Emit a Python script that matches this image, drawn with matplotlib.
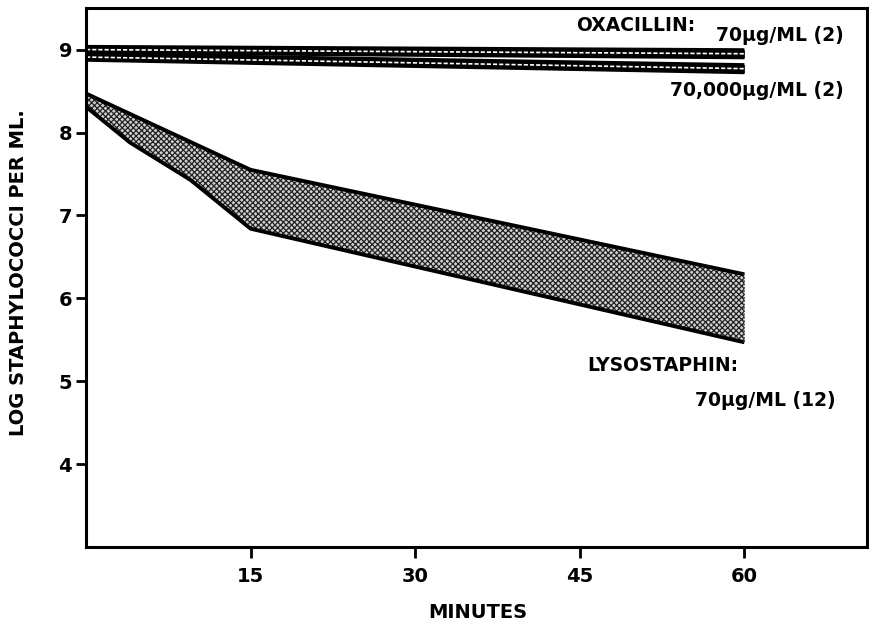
import matplotlib
matplotlib.use("Agg")
import matplotlib.pyplot as plt
import numpy as np

# lysostaphin band (min, log count)
lyso_upper_t = [0, 15, 60]
lyso_upper_y = [8.47, 7.55, 6.29]
lyso_lower_t = [0, 4, 9.5, 15, 60]
lyso_lower_y = [8.31, 7.88, 7.43, 6.84, 5.47]

# oxacillin bands: 70 ug/ml and 70,000 ug/ml
oxa_t = [0, 60]
oxa70_top = [9.04, 9.00]
oxa70_bot = [8.96, 8.90]
oxa70000_top = [8.95, 8.82]
oxa70000_bot = [8.87, 8.72]

plt.rcParams["font.family"] = "DejaVu Sans"
plt.rcParams["hatch.linewidth"] = 0.9

fig = plt.figure(figsize=(8.69, 6.26), dpi=100)
ax = fig.add_axes([0.099, 0.126, 0.899, 0.861])

# lysostaphin: stippled band
t_all = np.array(sorted(set(lyso_upper_t + lyso_lower_t)))
up = np.interp(t_all, lyso_upper_t, lyso_upper_y)
lo = np.interp(t_all, lyso_lower_t, lyso_lower_y)
ax.fill_between(t_all, lo, up, facecolor="#d0d0d0", edgecolor="#222222",
                hatch="xxxxxx", linewidth=0)
ax.plot(lyso_upper_t, lyso_upper_y, color="black", lw=2.8, solid_capstyle="butt")
ax.plot(lyso_lower_t, lyso_lower_y, color="black", lw=2.8, solid_capstyle="butt")
ax.plot([60, 60], [lyso_lower_y[-1], lyso_upper_y[-1]], color="#444444", lw=1.2, ls=(0, (1, 1)))

# oxacillin: black bars with white squiggle
for top, bot in [(oxa70_top, oxa70_bot), (oxa70000_top, oxa70000_bot)]:
    ax.fill_between(oxa_t, bot, top, color="black", lw=0)
    ax.plot(oxa_t, top, color="black", lw=2, solid_capstyle="butt")
    ax.plot(oxa_t, bot, color="black", lw=2, solid_capstyle="butt")
    mid = [(a + b) / 2 for a, b in zip(top, bot)]
    ax.plot(oxa_t, mid, color="white", lw=1.2, ls=(0, (2.5, 1.2)))

ax.set_xlim(0, 71.2)
ax.set_ylim(3.0, 9.5)
ax.set_xticks([15, 30, 45, 60])
ax.set_yticks([4, 5, 6, 7, 8, 9])
ax.tick_params(axis="both", direction="out", width=2, labelsize=14)
ax.tick_params(axis="x", length=8, pad=6)
ax.tick_params(axis="y", length=7, pad=3)
for lab in ax.get_xticklabels() + ax.get_yticklabels():
    lab.set_fontweight("bold")
for sp in ax.spines.values():
    sp.set_linewidth(2.2)

fig.text(0.55, 0.022, "MINUTES", fontsize=14, fontweight="bold", ha="center", va="center")
fig.text(0.021, 0.565, "LOG STAPHYLOCOCCI PER ML.", fontsize=14, fontweight="bold",
         ha="center", va="center", rotation=90)

ax.text(55.5, 9.29, "OXACILLIN:", fontsize=13.5, fontweight="bold", ha="right", va="center")
ax.text(57.4, 9.17, "70\u03bcg/ML (2)", fontsize=13.5, fontweight="bold", ha="left", va="center")
ax.text(69.1, 8.51, "70,000\u03bcg/ML (2)", fontsize=13.5, fontweight="bold", ha="right", va="center")
ax.text(45.7, 5.19, "LYSOSTAPHIN:", fontsize=13.5, fontweight="bold", ha="left", va="center")
ax.text(68.3, 4.77, "70\u03bcg/ML (12)", fontsize=13.5, fontweight="bold", ha="right", va="center")

fig.savefig("out.png", dpi=100)
